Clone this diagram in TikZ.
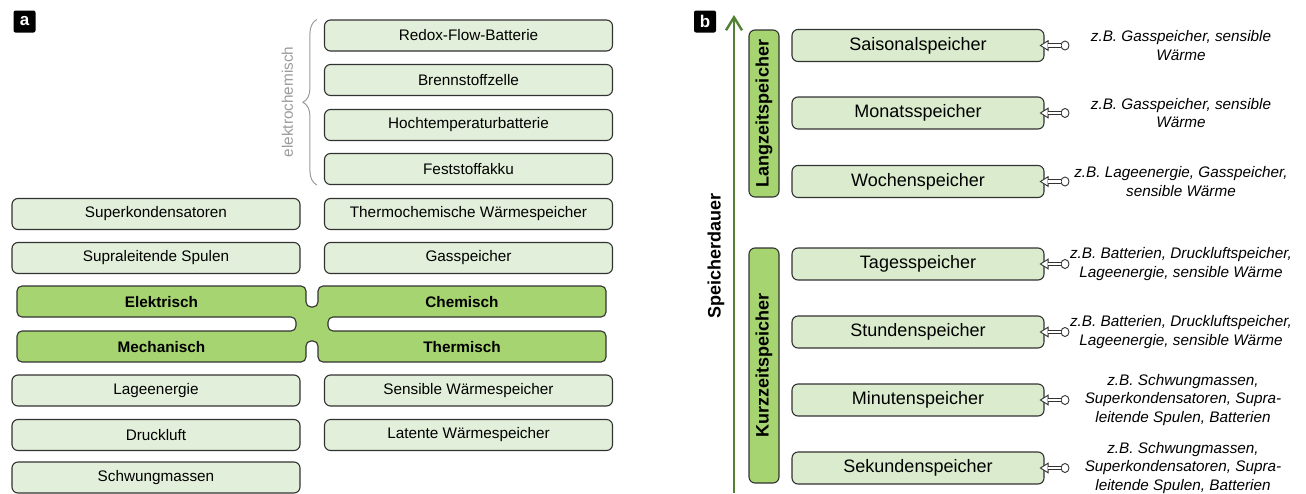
\documentclass[tikz,border=0pt]{standalone}
\usepackage{fontspec}
\setmainfont{Liberation Sans}
\usetikzlibrary{arrows.meta,decorations.pathreplacing,shapes.geometric}
\definecolor{lightg}{RGB}{226,239,218}
\definecolor{lightgb}{RGB}{218,236,205}
\definecolor{darkg}{RGB}{166,212,112}
\definecolor{axisg}{RGB}{84,130,53}
\definecolor{edgec}{RGB}{50,50,50}
\definecolor{braceg}{RGB}{155,155,155}
\begin{document}
\begin{tikzpicture}[x=1pt,y=-1pt,
  box/.style={draw=edgec, line width=1.1pt, fill=lightg, rounded corners=6pt,
    minimum height=31pt, inner sep=0pt, font=\fontsize{15.3}{18}\selectfont},
  abox/.style={box, minimum width=288pt},
  bbox/.style={box, fill=lightgb, minimum width=252pt, minimum height=32pt, font=\fontsize{18}{21}\selectfont},
  vbox/.style={draw=edgec, line width=1.1pt, fill=darkg, rounded corners=6pt, rotate=90,
    minimum height=30pt, inner sep=0pt, font=\fontsize{18}{21}\selectfont\bfseries},
  cat/.style={inner sep=0pt, font=\fontsize{15.3}{18}\selectfont\bfseries},
  tag/.style={fill=black, text=white, rounded corners=2pt, minimum size=22pt, inner sep=0pt,
    font=\fontsize{17}{17}\selectfont\bfseries},
  note/.style={align=center, inner sep=0pt, font=\fontsize{15.3}{18.3}\selectfont\itshape},
  knob/.style={ellipse, draw=edgec, fill=white, line width=0.9pt, minimum width=8pt, minimum height=9pt, inner sep=0pt},
  headline/.style={draw=edgec, line width=0.9pt, shorten >=-5pt,
    -{Triangle[fill=white, length=9pt, width=11pt]}},
  shaft/.style={draw=edgec, line width=0.9pt, double=white, double distance=2.8pt, shorten >=3.5pt},
]
\useasboundingbox (0,0) rectangle (1306,493);

% ---------- panel a ----------
\node[tag] (taga) at (24.5,21.5) {a};

\node[abox] (redox) at (468.5,35.5) {Redox-Flow-Batterie};
\node[abox] (brenn) at (468.5,80) {Brennstoffzelle};
\node[abox] (hoch)  at (468.5,125) {Hochtemperaturbatterie};
\node[abox] (fest)  at (468.5,169) {Feststoffakku};
\node[abox] (thermo) at (468.5,214) {Thermochemische Wärmespeicher};
\node[abox] (gas)   at (468.5,258) {Gasspeicher};
\node[abox] (superk) at (156,214) {Superkondensatoren};
\node[abox] (supral) at (156,258) {Supraleitende Spulen};

\draw[braceg, line width=1pt, decorate, decoration={brace, amplitude=14pt}]
  ([xshift=-7pt]fest.south west) -- ([xshift=-7pt]redox.north west);
\node[braceg, rotate=90, inner sep=0pt, font=\fontsize{15.3}{18}\selectfont] (elchem) at (287.5,102) {elektrochemisch};

\path[draw=edgec, fill=darkg, line width=1.1pt, rounded corners=5pt]
  (17,286) -- (306,286) -- (306,307) -- (318,307) -- (318,286) -- (606,286) -- (606,317)
  -- (328,317) -- (328,331) -- (606,331) -- (606,362) -- (318,362) -- (318,341)
  -- (306,341) -- (306,362) -- (17,362) -- (17,331) -- (296,331) -- (296,317)
  -- (17,317) -- cycle;
\node[cat] (elek) at (161.5,302) {Elektrisch};
\node[cat] (chem) at (462,302) {Chemisch};
\node[cat] (mech) at (161.5,347) {Mechanisch};
\node[cat] (therm) at (462,347) {Thermisch};

\node[abox] (lage)  at (156,390.5) {Lageenergie};
\node[abox] (druck) at (156,435) {Druckluft};
\node[abox] (schw)  at (156,477.5) {Schwungmassen};
\node[abox] (sens)  at (468.5,390.5) {Sensible Wärmespeicher};
\node[abox] (lat)   at (468.5,435) {Latente Wärmespeicher};

% ---------- panel b ----------
\node[tag] (tagb) at (705,21.5) {b};
\coordinate (axbot) at (734,493);
\coordinate (axtop) at (734,15);
\draw[axisg, line width=2.4pt, -{Straight Barb[length=13pt, width=16pt, line width=2.4pt]}] (axbot) -- (axtop);
\node[rotate=90, inner sep=0pt, font=\fontsize{18}{21}\selectfont\bfseries] (sdauer) at (716,256) {Speicherdauer};

\node[vbox, minimum width=167pt] (lang) at (764,113.5) {Langzeitspeicher};
\node[vbox, minimum width=235pt] (kurz) at (764,365.5) {Kurzzeitspeicher};

\node[bbox] (r1) at (918,45.5) {Saisonalspeicher};
\node[bbox] (r2) at (918,113) {Monatsspeicher};
\node[bbox] (r3) at (918,181.5) {Wochenspeicher};
\node[bbox] (r4) at (918,264) {Tagesspeicher};
\node[bbox] (r5) at (918,332) {Stundenspeicher};
\node[bbox] (r6) at (918,400) {Minutenspeicher};
\node[bbox] (r7) at (918,468) {Sekundenspeicher};

\foreach \i/\yy in {1/45.5,2/113,3/181.5,4/264,5/332,6/400,7/468}{
  \node[knob] (k\i) at (1065,\yy) {};
  \draw[headline] (k\i) -- (r\i.east);
  \draw[shaft] (k\i) -- (r\i.east);
}

\node[note] (n1) at (1181,45.5) {z.B. Gasspeicher, sensible\\Wärme};
\node[note] (n2) at (1181,113) {z.B. Gasspeicher, sensible\\Wärme};
\node[note] (n3) at (1181,181.5) {z.B. Lageenergie, Gasspeicher,\\sensible Wärme};
\node[note] (n4) at (1181,264) {z.B. Batterien, Druckluftspeicher,\\Lageenergie, sensible Wärme};
\node[note] (n5) at (1181,332) {z.B. Batterien, Druckluftspeicher,\\Lageenergie, sensible Wärme};
\node[note] (n6) at (1183,400) {z.B. Schwungmassen,\\Superkondensatoren, Supra-\\leitende Spulen, Batterien};
\node[note] (n7) at (1183,468) {z.B. Schwungmassen,\\Superkondensatoren, Supra-\\leitende Spulen, Batterien};
\end{tikzpicture}
\end{document}
